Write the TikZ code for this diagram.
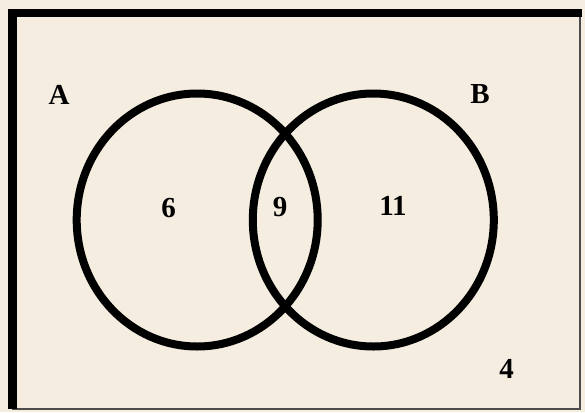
\documentclass[tikz,border=0pt]{standalone}
\usepackage{fontspec}
\setmainfont{Liberation Serif}
\usepackage{tikz}
\definecolor{paper}{RGB}{244,237,224}

\begin{document}
\begin{tikzpicture}[x=1pt, y=-1pt,
    lbl/.style={font=\fontsize{29}{29}\selectfont\bfseries, inner sep=0pt}]
  % Background
  \fill[paper] (0,0) rectangle (585,412);
  \useasboundingbox (0,0) rectangle (585,412);
  % Frame
  \draw[line width=2pt, black!70] (580,13) -- (580,409) -- (12,409);
  \draw[line width=8.5pt] (12.5,409) -- (12.5,13) -- (582,13);
  % Circles
  \draw[line width=8pt] (197.2,220) ellipse (120.5 and 126.5);
  \draw[line width=8pt] (373.3,220) ellipse (120.5 and 126.5);
  % Labels
  \node[lbl] (setA) at (59,95) {A};
  \node[lbl] (setB) at (480,94.5) {B};
  \node[lbl] (onlyA) at (168.5,208) {6};
  \node[lbl] (both) at (280,207) {9};
  \node[lbl] (onlyB) at (393,206) {11};
  \node[lbl] (none) at (506.5,369) {4};
\end{tikzpicture}
\end{document}
